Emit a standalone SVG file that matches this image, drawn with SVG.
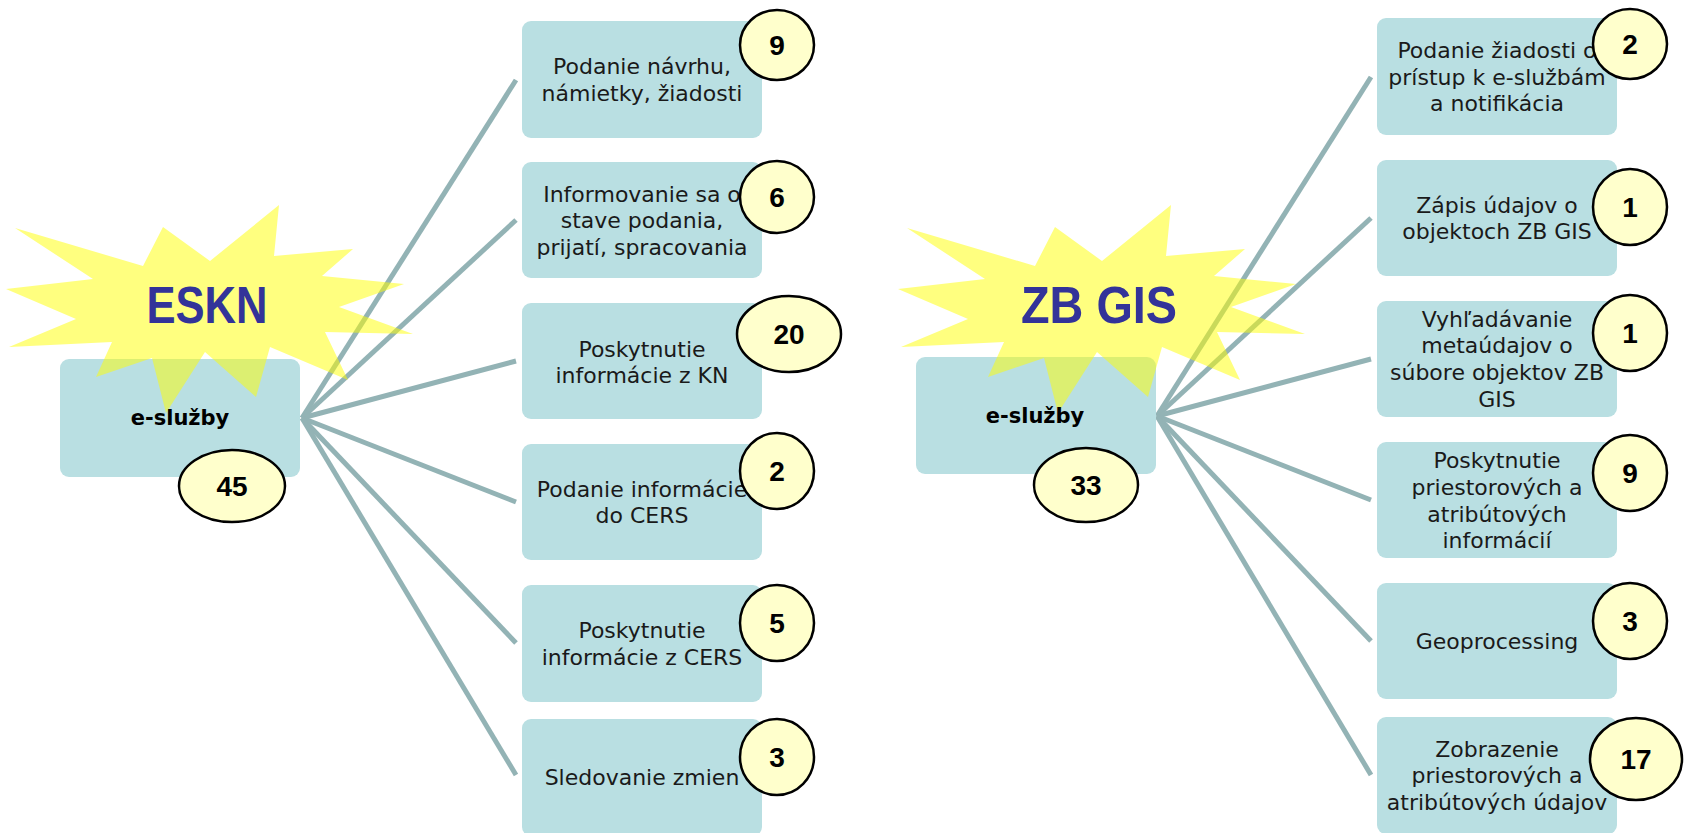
<svg xmlns="http://www.w3.org/2000/svg" width="1685" height="833" viewBox="0 0 1685 833">
<style>
.box{fill:#B9DFE2;}
.t{font-family:"DejaVu Sans",sans-serif;font-size:22px;fill:#1a1a1a;text-anchor:middle;}
.hub{font-family:"DejaVu Sans",sans-serif;font-size:21px;font-weight:bold;fill:#000;text-anchor:middle;}
.badge{fill:#FFFFCC;stroke:#000;stroke-width:2.5;}
.num{font-family:"Liberation Sans",Arial,sans-serif;font-size:28px;font-weight:bold;fill:#000;text-anchor:middle;}
.title{font-family:"Liberation Sans",Arial,sans-serif;font-size:52px;font-weight:bold;fill:#333399;text-anchor:middle;}
.conn line{stroke:#93B3B5;stroke-width:5;}
.star{fill:#FFFF00;fill-opacity:0.5;}
</style>
<defs>
<polygon id="starShape" points="15,228 143,266 163,227 210,261 279,205 274,256 353,249 322,276 404,284 339,307 413,334 325,332 348,380 270,347 256,397 205,352 166,413 152,358 96,377 112,342 9,347 76,319 6,289 93,279"/>
</defs>
<rect width="1685" height="833" fill="#fff"/>
<g id="connectors" class="conn">
<line x1="302" y1="418" x2="516" y2="80"/>
<line x1="302" y1="418" x2="516" y2="220"/>
<line x1="302" y1="418" x2="516" y2="361"/>
<line x1="302" y1="418" x2="516" y2="502"/>
<line x1="302" y1="418" x2="516" y2="643"/>
<line x1="302" y1="418" x2="516" y2="775"/>
<line x1="1157" y1="416" x2="1371" y2="77"/>
<line x1="1157" y1="416" x2="1371" y2="218"/>
<line x1="1157" y1="416" x2="1371" y2="359"/>
<line x1="1157" y1="416" x2="1371" y2="500"/>
<line x1="1157" y1="416" x2="1371" y2="641"/>
<line x1="1157" y1="416" x2="1371" y2="775"/>
</g>
<g id="eskn-hub">
<rect class="box" x="60" y="359" width="240" height="118" rx="9"/>
</g>
<g id="zbgis-hub">
<rect class="box" x="916" y="357" width="240" height="117" rx="9"/>
</g>
<g id="eskn-star">
<use href="#starShape" class="star"/>
<text class="title" x="207" y="323" textLength="121" lengthAdjust="spacingAndGlyphs">ESKN</text>
</g>
<g id="zbgis-star">
<use href="#starShape" class="star" transform="translate(892,0)"/>
<text class="title" x="1099" y="323" textLength="156" lengthAdjust="spacingAndGlyphs">ZB GIS</text>
</g>
<g id="eskn-hub-label">
<text class="hub" x="180" y="425">e-služby</text>
<ellipse class="badge" cx="232" cy="486" rx="53" ry="36"/>
<text class="num" x="232" y="496">45</text>
</g>
<g id="zbgis-hub-label">
<text class="hub" x="1035" y="423">e-služby</text>
<ellipse class="badge" cx="1086" cy="485" rx="52" ry="37"/>
<text class="num" x="1086" y="495">33</text>
</g>
<g id="e1">
<rect class="box" x="522" y="21" width="240" height="117" rx="9"/>
<text class="t" x="642" y="74">Podanie návrhu,</text>
<text class="t" x="642" y="101">námietky, žiadosti</text>
<ellipse class="badge" cx="777" cy="45" rx="37" ry="35"/>
<text class="num" x="777" y="55">9</text>
</g>
<g id="e2">
<rect class="box" x="522" y="162" width="240" height="116" rx="9"/>
<text class="t" x="642" y="202">Informovanie sa o</text>
<text class="t" x="642" y="228">stave podania,</text>
<text class="t" x="642" y="255">prijatí, spracovania</text>
<ellipse class="badge" cx="777" cy="197" rx="37" ry="36"/>
<text class="num" x="777" y="207">6</text>
</g>
<g id="e3">
<rect class="box" x="522" y="303" width="240" height="116" rx="9"/>
<text class="t" x="642" y="357">Poskytnutie</text>
<text class="t" x="642" y="383">informácie z KN</text>
<ellipse class="badge" cx="789" cy="334" rx="52" ry="38"/>
<text class="num" x="789" y="344">20</text>
</g>
<g id="e4">
<rect class="box" x="522" y="444" width="240" height="116" rx="9"/>
<text class="t" x="642" y="497">Podanie informácie</text>
<text class="t" x="642" y="523">do CERS</text>
<ellipse class="badge" cx="777" cy="471" rx="37" ry="38"/>
<text class="num" x="777" y="481">2</text>
</g>
<g id="e5">
<rect class="box" x="522" y="585" width="240" height="117" rx="9"/>
<text class="t" x="642" y="638">Poskytnutie</text>
<text class="t" x="642" y="665">informácie z CERS</text>
<ellipse class="badge" cx="777" cy="623" rx="37" ry="38"/>
<text class="num" x="777" y="633">5</text>
</g>
<g id="e6">
<rect class="box" x="522" y="719" width="240" height="117" rx="9"/>
<text class="t" x="642" y="785">Sledovanie zmien</text>
<ellipse class="badge" cx="777" cy="757" rx="37" ry="38"/>
<text class="num" x="777" y="767">3</text>
</g>
<g id="z1">
<rect class="box" x="1377" y="18" width="240" height="117" rx="9"/>
<text class="t" x="1497" y="58">Podanie žiadosti o</text>
<text class="t" x="1497" y="85">prístup k e-službám</text>
<text class="t" x="1497" y="111">a notifikácia</text>
<ellipse class="badge" cx="1630" cy="44" rx="37" ry="35"/>
<text class="num" x="1630" y="54">2</text>
</g>
<g id="z2">
<rect class="box" x="1377" y="160" width="240" height="116" rx="9"/>
<text class="t" x="1497" y="213">Zápis údajov o</text>
<text class="t" x="1497" y="239">objektoch ZB GIS</text>
<ellipse class="badge" cx="1630" cy="207" rx="37" ry="38"/>
<text class="num" x="1630" y="217">1</text>
</g>
<g id="z3">
<rect class="box" x="1377" y="301" width="240" height="116" rx="9"/>
<text class="t" x="1497" y="327">Vyhľadávanie</text>
<text class="t" x="1497" y="353">metaúdajov o</text>
<text class="t" x="1497" y="380">súbore objektov ZB</text>
<text class="t" x="1497" y="407">GIS</text>
<ellipse class="badge" cx="1630" cy="333" rx="37" ry="38"/>
<text class="num" x="1630" y="343">1</text>
</g>
<g id="z4">
<rect class="box" x="1377" y="442" width="240" height="116" rx="9"/>
<text class="t" x="1497" y="468">Poskytnutie</text>
<text class="t" x="1497" y="495">priestorových a</text>
<text class="t" x="1497" y="522">atribútových</text>
<text class="t" x="1497" y="548">informácií</text>
<ellipse class="badge" cx="1630" cy="473" rx="37" ry="38"/>
<text class="num" x="1630" y="483">9</text>
</g>
<g id="z5">
<rect class="box" x="1377" y="583" width="240" height="116" rx="9"/>
<text class="t" x="1497" y="649">Geoprocessing</text>
<ellipse class="badge" cx="1630" cy="621" rx="37" ry="38"/>
<text class="num" x="1630" y="631">3</text>
</g>
<g id="z6">
<rect class="box" x="1377" y="717" width="240" height="117" rx="9"/>
<text class="t" x="1497" y="757">Zobrazenie</text>
<text class="t" x="1497" y="783">priestorových a</text>
<text class="t" x="1497" y="810">atribútových údajov</text>
<ellipse class="badge" cx="1636" cy="759" rx="46" ry="41"/>
<text class="num" x="1636" y="769">17</text>
</g>
</svg>
